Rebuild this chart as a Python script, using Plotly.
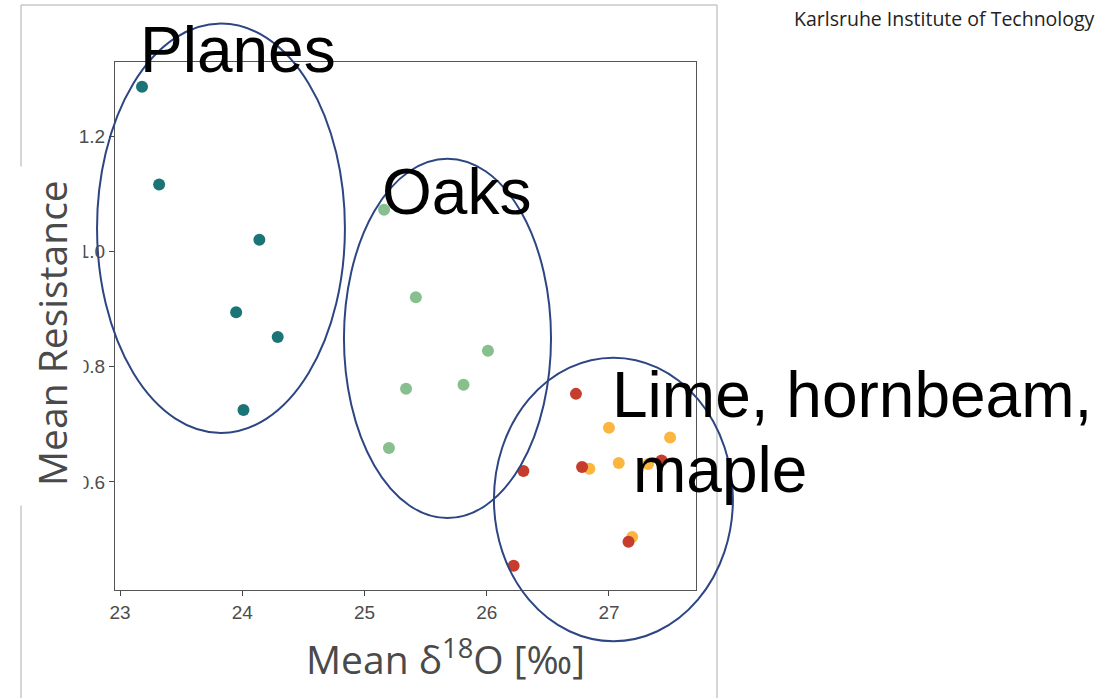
import plotly.graph_objects as go

# Mean δ18O [‰] and mean resistance per tree group
planes_x = [23.18, 23.32, 24.14, 23.95, 24.29, 24.01]
planes_y = [1.287, 1.117, 1.021, 0.895, 0.852, 0.725]

oaks_x = [25.16, 25.42, 26.01, 25.81, 25.34, 25.20]
oaks_y = [1.073, 0.921, 0.828, 0.769, 0.762, 0.659]

orange_x = [27.00, 27.50, 26.84, 27.08, 27.32, 27.19]
orange_y = [0.694, 0.677, 0.623, 0.633, 0.631, 0.504]

red_x = [26.73, 26.30, 26.78, 27.43, 27.16, 26.22]
red_y = [0.753, 0.619, 0.626, 0.637, 0.496, 0.454]

x_ticks = [23, 24, 25, 26, 27]
y_ticks = [0.6, 0.8, 1.0, 1.2]
y_tick_text = ["0.6", "0.8", "1.0", "1.2"]

# group outlines: (x_min, x_max, y_min, y_max) in data units
group_ellipses = {
    "Planes": (22.812, 24.840, 0.685, 1.397),
    "Oaks": (24.832, 26.526, 0.537, 1.162),
    "Lime": (26.059, 28.014, 0.323, 0.816),
}

X_RANGE = (22.959, 27.712)
Y_RANGE = (0.412, 1.330)

W, H = 1120, 698
ML, MR, MT, MB = 115, 424, 62, 108
PW, PH = W - ML - MR, H - MT - MB


def dx(v):
    return (v - X_RANGE[0]) / (X_RANGE[1] - X_RANGE[0])


def dy(v):
    return (v - Y_RANGE[0]) / (Y_RANGE[1] - Y_RANGE[0])


def px(x):
    return (x - ML) / PW


def py(y):
    return (H - MB - y) / PH


fig = go.Figure()

marker_series = [
    (planes_x, planes_y, "#1b7475"),
    (oaks_x, oaks_y, "#88bf8e"),
    (orange_x, orange_y, "#fbb640"),
    (red_x, red_y, "#c63d2d"),
]
for xs, ys, col in marker_series:
    fig.add_trace(go.Scatter(
        x=xs, y=ys, mode="markers",
        marker=dict(size=12, color=col, line=dict(width=0)),
        showlegend=False, hoverinfo="skip",
    ))

shapes = []
# slide frame
frame_col = "#c9c9c9"
shapes.append(dict(type="line", xref="paper", yref="paper",
                   x0=px(21), x1=px(717), y0=py(5), y1=py(5),
                   line=dict(color=frame_col, width=1.5), layer="above"))
shapes.append(dict(type="line", xref="paper", yref="paper",
                   x0=px(21), x1=px(21), y0=py(5), y1=py(698),
                   line=dict(color=frame_col, width=1.5), layer="above"))
shapes.append(dict(type="line", xref="paper", yref="paper",
                   x0=px(717), x1=px(717), y0=py(5), y1=py(698),
                   line=dict(color=frame_col, width=1.5), layer="above"))
for name, (x0, x1, y0, y1) in group_ellipses.items():
    shapes.append(dict(type="circle", xref="paper", yref="paper",
                       x0=dx(x0), x1=dx(x1), y0=dy(y0), y1=dy(y1),
                       line=dict(color="#2d4683", width=2), layer="above"))

big = dict(family="Liberation Sans, Arial, sans-serif", size=64, color="black")
title_font = dict(family="Open Sans, sans-serif", size=39, color="#4a4a4a")
annotations = [
    # white panel behind the y-axis title (covers the frame and part of the tick labels)
    dict(text=" ", x=px(46), y=py(336), width=74, height=338,
         xanchor="center", yanchor="middle", bgcolor="white", borderpad=0),
    dict(text="Mean Resistance", x=px(52), y=py(333), textangle=-90,
         xanchor="center", yanchor="middle", font=title_font),
    dict(text="Planes", x=px(138), y=py(50), xanchor="left", yanchor="middle", font=big),
    dict(text="Oaks", x=px(380), y=py(192), xanchor="left", yanchor="middle", font=big),
    dict(text="Lime, hornbeam,", x=px(610), y=py(395), xanchor="left", yanchor="middle", font=big),
    dict(text="maple", x=px(631), y=py(470), xanchor="left", yanchor="middle", font=big),
    dict(text="Mean δ<sup>18</sup>O [‰]", x=px(445), y=py(657),
         xanchor="center", yanchor="middle", font=title_font),
    dict(text="Karlsruhe Institute of Technology", x=px(792), y=py(19),
         xanchor="left", yanchor="middle",
         font=dict(family="Open Sans, sans-serif", size=19.5, color="#222222")),
]
for a in annotations:
    a.update(xref="paper", yref="paper", showarrow=False)

axis_common = dict(
    showgrid=False, zeroline=False, showline=True, mirror=True,
    linecolor="#555555", linewidth=1.2,
    ticks="outside", ticklen=5, tickcolor="#444444", tickwidth=1.2,
    tickfont=dict(family="Liberation Sans, Arial, sans-serif", size=19, color="#4d4d4d"),
)

fig.update_layout(
    width=W, height=H,
    margin=dict(l=ML, r=MR, t=MT, b=MB),
    paper_bgcolor="white", plot_bgcolor="white",
    xaxis=dict(range=list(X_RANGE), tickvals=x_ticks, **axis_common),
    yaxis=dict(range=list(Y_RANGE), tickvals=y_ticks, ticktext=y_tick_text, **axis_common),
    shapes=shapes,
    annotations=annotations,
)

fig.write_html("out.html")
